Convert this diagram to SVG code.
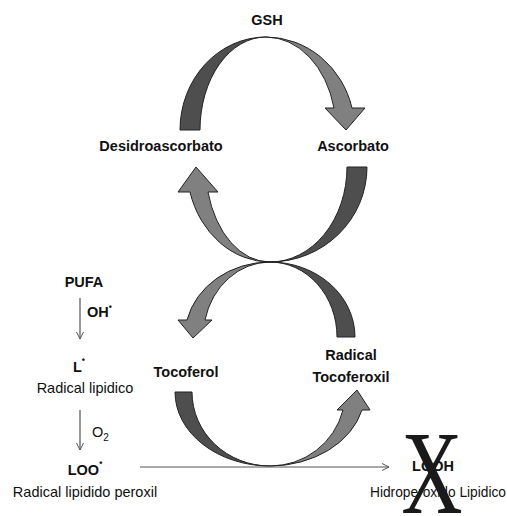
<svg xmlns="http://www.w3.org/2000/svg" width="507" height="516" viewBox="0 0 507 516">
<defs>
<marker id="open" markerWidth="10" markerHeight="10" refX="8" refY="4" orient="auto" markerUnits="userSpaceOnUse">
<path d="M1,0.5 L8,4 L1,7.5" fill="none" stroke="#555" stroke-width="1"/>
</marker>
</defs>
<style>
.dark{fill:#4e4e4e;stroke:#222;stroke-width:1}
.light{fill:#808080;stroke:#222;stroke-width:1}
.thin{stroke:#555;stroke-width:1.2;fill:none;marker-end:url(#open)}
text{font-family:"Liberation Sans",Arial,sans-serif;fill:#111;font-size:14.5px}
.b{font-weight:bold}
.c{text-anchor:middle}
</style>
<rect width="507" height="516" fill="#fff"/>
<g id="connectors">
<path class="dark" d="M180,130 A86,93 0 0 1 266,37 A66,93 0 0 0 200,130 Z"/>
<path class="light" d="M266,37 A89,93 0 0 1 352,108 L365,108 L346,130 L325,108 L334,108 A70,93 0 0 0 266,37 Z"/>
<path class="dark" d="M367,167 A97,95 0 0 1 270,262 A77,95 0 0 0 347,167 Z"/>
<path class="light" d="M270,262 A83,95 0 0 1 190,192 L178,192 L196,167 L218,192 L208,192 A64,95 0 0 0 270,262 Z"/>
<path class="dark" d="M355,337 A85,75 0 0 0 270,262 A67,75 0 0 1 337,337 Z"/>
<path class="light" d="M270,262 A85,75 0 0 0 187,320 L178,320 L193,338 L212,320 L205,320 A67,75 0 0 1 270,262 Z"/>
<path class="dark" d="M175,392 A95,74 0 0 0 270,466 A78,74 0 0 1 192,392 Z"/>
<path class="light" d="M270,466 A95,74 0 0 0 362,410 L370,410 L357,390 L337,410 L343,410 A75,74 0 0 1 270,466 Z"/>
<line class="thin" x1="80" y1="298" x2="80" y2="339"/>
<line class="thin" x1="80" y1="410" x2="80" y2="450"/>
<line class="thin" x1="140" y1="467" x2="389" y2="467"/>
</g>
<g id="gsh"><text class="b c" x="267" y="25">GSH</text></g>
<g id="desidroascorbato"><text class="b c" x="161" y="151">Desidroascorbato</text></g>
<g id="ascorbato"><text class="b c" x="353" y="151">Ascorbato</text></g>
<g id="tocoferol"><text class="b c" x="186" y="377">Tocoferol</text></g>
<g id="radical-tocoferoxil"><text class="b c" x="351" y="360">Radical</text><text class="b c" x="351" y="382">Tocoferoxil</text></g>
<g id="pufa"><text class="b c" x="84" y="287">PUFA</text></g>
<g id="oh"><text class="b" x="87" y="317" font-size="13">OH<tspan dy="-7" font-size="9">•</tspan></text></g>
<g id="l-radical"><text class="b c" x="79" y="372">L<tspan dy="-9" font-size="9">•</tspan></text><text class="c" x="85" y="393">Radical lipidico</text></g>
<g id="o2"><text x="92" y="437">O<tspan dy="4" font-size="10">2</tspan></text></g>
<g id="loo"><text class="b c" x="85" y="475">LOO<tspan dy="-9" font-size="9">•</tspan></text><text class="c" x="85" y="497">Radical lipidido peroxil</text></g>
<g id="looh"><text class="b c" x="433" y="471">LOOH</text><text class="c" x="438" y="497" font-size="14" textLength="136" lengthAdjust="spacingAndGlyphs">Hidroperoxido Lipidico</text>
<text x="0" y="0" text-anchor="middle" transform="translate(432,513) scale(0.72,1)" style="font-family:'Liberation Serif','Times New Roman',serif;font-size:118px;fill:#1a1a1a">X</text></g>
</svg>
